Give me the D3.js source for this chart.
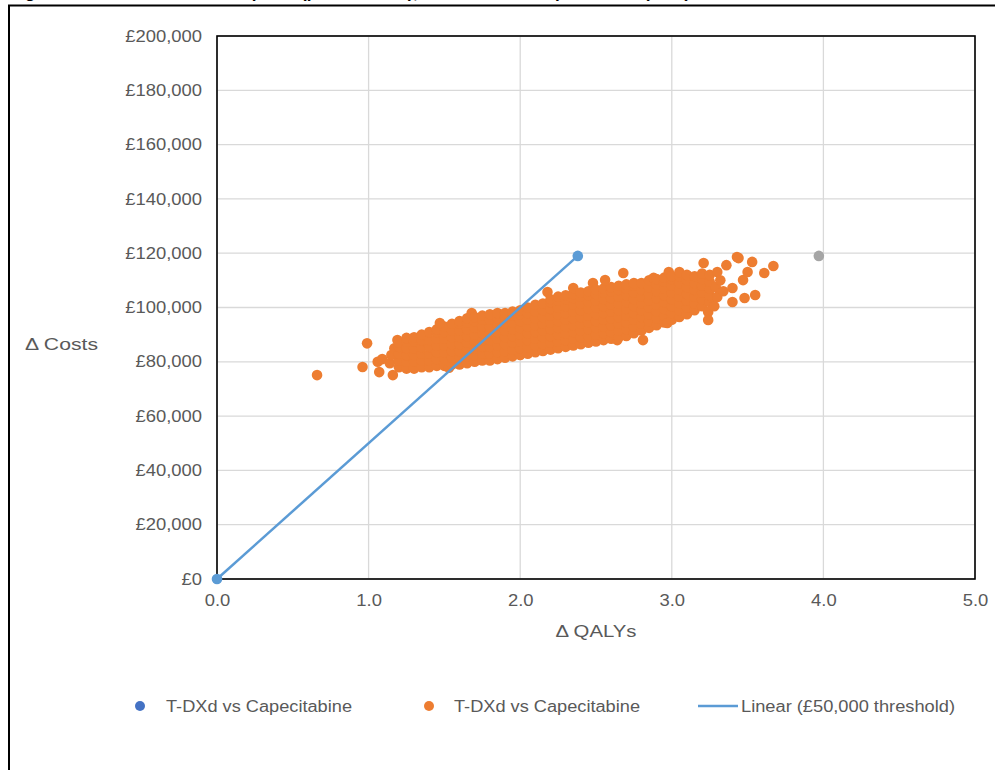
<!DOCTYPE html>
<html><head><meta charset="utf-8">
<script src="https://cdn.jsdelivr.net/npm/d3@7"></script>
<style>
html,body{margin:0;padding:0;background:#fff;}
svg{display:block;font-family:"Liberation Sans",Arial,sans-serif;}
</style></head><body>
<svg id="chart" width="995" height="770"></svg>
<script>
// ---------- data ----------
const qalyTicks = [0, 1, 2, 3, 4, 5];
const costTicks = [0, 20000, 40000, 60000, 80000, 100000, 120000, 140000, 160000, 180000, 200000];
const thresholdQaly = [0, 2.38];
const thresholdCost = [0, 119000];
const extraQaly = [3.97];
const extraCost = [119000];
const legendLabels = ["T-DXd vs Capecitabine", "T-DXd vs Capecitabine", "Linear (£50,000 threshold)"];
const xTitle = "Δ QALYs";
const yTitle = "Δ Costs";
const titleText = "Figure 26: Cost-effectiveness plane (probabilistic), T-DXd versus capecitabine (PSA)";
// PSA simulations [Δ QALYs, Δ Costs]
const psaPoints = [
[0.66,75100],[0.96,78100],[0.99,86800],[1.06,80000],[1.09,81000],[1.07,76200],[1.16,75100],[1.19,88000],[1.14,79500],[1.15,82500],[1.17,85000],
[1.20,78000],[1.20,80500],[1.20,83000],[1.20,85500],[1.20,87000],
[1.25,77500],[1.25,80000],[1.25,82500],[1.25,85000],[1.25,87500],[1.25,88800],
[1.30,77500],[1.30,80000],[1.30,82500],[1.30,85000],[1.30,87500],[1.30,89000],
[1.35,78000],[1.35,80500],[1.35,83000],[1.35,85500],[1.35,88000],[1.35,90000],
[1.40,78000],[1.40,80500],[1.40,83000],[1.40,85500],[1.40,88000],[1.40,91000],
[1.45,78500],[1.45,81000],[1.45,83500],[1.45,86000],[1.45,88500],[1.45,91000],[1.45,92000],
[1.50,78500],[1.50,81000],[1.50,83500],[1.50,86000],[1.50,88500],[1.50,91000],[1.50,93000],
[1.53,77800],[1.47,94300],
[1.55,79000],[1.55,81500],[1.55,84000],[1.55,86500],[1.55,89000],[1.55,91500],[1.55,94000],
[1.60,79000],[1.60,81500],[1.60,84000],[1.60,86500],[1.60,89000],[1.60,91500],[1.60,94000],[1.60,95000],
[1.65,79500],[1.65,82000],[1.65,84500],[1.65,87000],[1.65,89500],[1.65,92000],[1.65,94500],[1.65,96000],
[1.68,98000],
[1.70,80000],[1.70,82500],[1.70,85000],[1.70,87500],[1.70,90000],[1.70,92500],[1.70,95000],[1.70,96500],
[1.75,80500],[1.75,83000],[1.75,85500],[1.75,88000],[1.75,90500],[1.75,93000],[1.75,95500],[1.75,97000],
[1.80,80500],[1.80,83000],[1.80,85500],[1.80,88000],[1.80,90500],[1.80,93000],[1.80,95500],[1.80,97500],
[1.85,81000],[1.85,83500],[1.85,86000],[1.85,88500],[1.85,91000],[1.85,93500],[1.85,96000],[1.85,98000],
[1.90,81500],[1.90,84000],[1.90,86500],[1.90,89000],[1.90,91500],[1.90,94000],[1.90,96500],[1.90,98000],
[1.95,82000],[1.95,84500],[1.95,87000],[1.95,89500],[1.95,92000],[1.95,94500],[1.95,97000],[1.95,98500],
[2.00,82500],[2.00,85000],[2.00,87500],[2.00,90000],[2.00,92500],[2.00,95000],[2.00,97500],[2.00,99000],
[2.05,83000],[2.05,85500],[2.05,88000],[2.05,90500],[2.05,93000],[2.05,95500],[2.05,98000],[2.05,100000],
[2.10,83500],[2.10,86000],[2.10,88500],[2.10,91000],[2.10,93500],[2.10,96000],[2.10,98500],[2.10,101000],
[2.15,84000],[2.15,86500],[2.15,89000],[2.15,91500],[2.15,94000],[2.15,96500],[2.15,99000],[2.15,101500],
[2.18,105700],
[2.20,84500],[2.20,87000],[2.20,89500],[2.20,92000],[2.20,94500],[2.20,97000],[2.20,99500],[2.20,102000],[2.20,103000],
[2.25,85000],[2.25,87500],[2.25,90000],[2.25,92500],[2.25,95000],[2.25,97500],[2.25,100000],[2.25,102500],[2.25,104000],
[2.30,85500],[2.30,88000],[2.30,90500],[2.30,93000],[2.30,95500],[2.30,98000],[2.30,100500],[2.30,103000],[2.30,104500],
[2.35,86000],[2.35,88500],[2.35,91000],[2.35,93500],[2.35,96000],[2.35,98500],[2.35,101000],[2.35,103500],[2.35,105000],[2.35,107200],
[2.40,86500],[2.40,89000],[2.40,91500],[2.40,94000],[2.40,96500],[2.40,99000],[2.40,101500],[2.40,104000],[2.40,105500],
[2.45,87000],[2.45,89500],[2.45,92000],[2.45,94500],[2.45,97000],[2.45,99500],[2.45,102000],[2.45,104500],[2.45,106000],
[2.48,109000],
[2.50,87500],[2.50,90000],[2.50,92500],[2.50,95000],[2.50,97500],[2.50,100000],[2.50,102500],[2.50,105000],[2.50,106500],
[2.55,88000],[2.55,90500],[2.55,93000],[2.55,95500],[2.55,98000],[2.55,100500],[2.55,103000],[2.55,105500],[2.55,107000],
[2.56,110100],
[2.60,88500],[2.60,91000],[2.60,93500],[2.60,96000],[2.60,98500],[2.60,101000],[2.60,103500],[2.60,106000],[2.60,107500],
[2.64,88000],
[2.65,89000],[2.65,91500],[2.65,94000],[2.65,96500],[2.65,99000],[2.65,101500],[2.65,104000],[2.65,106500],[2.65,108000],
[2.68,112700],
[2.70,89500],[2.70,92000],[2.70,94500],[2.70,97000],[2.70,99500],[2.70,102000],[2.70,104500],[2.70,107000],[2.70,108500],
[2.75,90500],[2.75,93000],[2.75,95500],[2.75,98000],[2.75,100500],[2.75,103000],[2.75,105500],[2.75,108000],[2.75,109000],
[2.80,91500],[2.80,94000],[2.80,96500],[2.80,99000],[2.80,101500],[2.80,104000],[2.80,106500],[2.80,109000],
[2.81,88000],
[2.85,92500],[2.85,95000],[2.85,97500],[2.85,100000],[2.85,102500],[2.85,105000],[2.85,107500],[2.85,110000],
[2.88,110900],
[2.90,93500],[2.90,96000],[2.90,98500],[2.90,101000],[2.90,103500],[2.90,106000],[2.90,108500],[2.90,110500],
[2.95,94500],[2.95,97000],[2.95,99500],[2.95,102000],[2.95,104500],[2.95,107000],[2.95,109500],[2.95,111000],
[2.97,94300],[2.98,113100],
[3.00,95500],[3.00,98000],[3.00,100500],[3.00,103000],[3.00,105500],[3.00,108000],[3.00,110500],[3.00,111500],
[3.05,96500],[3.05,99000],[3.05,101500],[3.05,104000],[3.05,106500],[3.05,109000],[3.05,111500],[3.05,113100],
[3.10,97500],[3.10,100000],[3.10,102500],[3.10,105000],[3.10,107500],[3.10,110000],[3.10,112000],
[3.15,99000],[3.15,101500],[3.15,104000],[3.15,106500],[3.15,109000],[3.15,111500],
[3.20,100500],[3.20,103000],[3.20,105500],[3.20,108000],[3.20,110500],[3.20,112500],[3.21,116400],
[3.25,102000],[3.25,104500],[3.25,107000],[3.25,109500],[3.25,112000],
[3.24,98300],[3.24,95400],[3.28,100500],[3.29,107500],[3.30,103900],[3.30,113100],[3.32,110000],[3.34,106000],
[3.36,115600],[3.40,107200],[3.40,102000],[3.43,118600],[3.44,118200],[3.47,110100],[3.48,103500],[3.50,113100],
[3.53,116800],[3.55,104600],[3.61,112700],[3.67,115300]
];

// ---------- layout / styles ----------
const W = 995, H = 770;
const plot = {left: 217, right: 975, top: 36, bottom: 579};
const textColor = "#595959";
const gridColor = "#d9d9d9";
const orange = "#ed7d31", lineBlue = "#5b9bd5", darkBlue = "#4472c4", grey = "#a5a5a5";
const R = 5.3;
const FS = 16;

const svg = d3.select("#chart");
const x = d3.scaleLinear().domain([0, 5]).range([plot.left, plot.right]);
const y = d3.scaleLinear().domain([0, 200000]).range([plot.bottom, plot.top]);

function stretch(sel, factor) {
  sel.each(function () {
    const w = this.getComputedTextLength();
    this.setAttribute("textLength", (w * factor).toFixed(2));
    this.setAttribute("lengthAdjust", "spacingAndGlyphs");
  });
}
function fitWidth(sel, w) {
  sel.attr("textLength", w).attr("lengthAdjust", "spacingAndGlyphs");
}

// outer frame (page border) and caption cut off at the top edge, as in the source
svg.append("text").attr("x", 10).attr("y", -2.2)
  .attr("font-size", 17).attr("font-weight", "bold").attr("fill", "#000")
  .text(titleText);
svg.append("path").attr("d", `M9,${H} V5.5 H${W}`)
  .attr("fill", "none").attr("stroke", "#000").attr("stroke-width", 2);

// grid
svg.append("g").selectAll("line").data(costTicks).join("line")
  .attr("x1", plot.left).attr("x2", plot.right)
  .attr("y1", d => y(d)).attr("y2", d => y(d))
  .attr("stroke", gridColor).attr("stroke-width", 1.3);
svg.append("g").selectAll("line").data(qalyTicks).join("line")
  .attr("y1", plot.top).attr("y2", plot.bottom)
  .attr("x1", d => x(d)).attr("x2", d => x(d))
  .attr("stroke", gridColor).attr("stroke-width", 1.3);

// plot area border
svg.append("rect").attr("x", plot.left).attr("y", plot.top)
  .attr("width", plot.right - plot.left).attr("height", plot.bottom - plot.top)
  .attr("fill", "none").attr("stroke", "#000").attr("stroke-width", 1.6);

// axes
const yAxis = svg.append("g").attr("transform", `translate(${plot.left},0)`)
  .call(d3.axisLeft(y).tickValues(costTicks).tickSize(0).tickPadding(15)
    .tickFormat(d => "£" + d3.format(",")(d)));
const xAxis = svg.append("g").attr("transform", `translate(0,${plot.bottom})`)
  .call(d3.axisBottom(x).tickValues(qalyTicks).tickSize(0).tickPadding(16)
    .tickFormat(d3.format(".1f")));
[yAxis, xAxis].forEach(a => {
  a.select(".domain").remove();
  a.selectAll("text").attr("font-size", FS).attr("fill", textColor)
    .attr("font-family", "Liberation Sans, Arial, sans-serif");
  stretch(a.selectAll("text"), 1.15);
});

// axis titles
svg.append("text").attr("x", 596).attr("y", 631).attr("dy", "0.35em")
  .attr("text-anchor", "middle").attr("font-size", FS).attr("fill", textColor)
  .text(xTitle).call(fitWidth, 81);
svg.append("text").attr("x", 25).attr("y", 344).attr("dy", "0.35em")
  .attr("font-size", FS).attr("fill", textColor)
  .text(yTitle).call(fitWidth, 73);

// PSA cloud
svg.append("g").selectAll("circle").data(psaPoints).join("circle")
  .attr("cx", d => x(d[0])).attr("cy", d => y(d[1])).attr("r", R)
  .attr("fill", orange);

// extra (grey) point
svg.append("g").selectAll("circle").data(extraQaly).join("circle")
  .attr("cx", d => x(d)).attr("cy", (d, i) => y(extraCost[i])).attr("r", R)
  .attr("fill", grey);

// threshold line + points
const thr = thresholdQaly.map((q, i) => [q, thresholdCost[i]]);
svg.append("path").datum(thr)
  .attr("d", d3.line().x(d => x(d[0])).y(d => y(d[1])))
  .attr("fill", "none").attr("stroke", lineBlue).attr("stroke-width", 2.5);
svg.append("g").selectAll("circle").data(thr).join("circle")
  .attr("cx", d => x(d[0])).attr("cy", d => y(d[1])).attr("r", R)
  .attr("fill", lineBlue);

// legend
const ly = 706;
const lg = svg.append("g");
lg.append("circle").attr("cx", 140).attr("cy", ly).attr("r", 5).attr("fill", darkBlue);
lg.append("text").attr("x", 166).attr("y", ly).attr("dy", "0.35em").attr("font-size", FS)
  .attr("fill", textColor).text(legendLabels[0]).call(fitWidth, 186);
lg.append("circle").attr("cx", 429).attr("cy", ly).attr("r", 5).attr("fill", orange);
lg.append("text").attr("x", 454).attr("y", ly).attr("dy", "0.35em").attr("font-size", FS)
  .attr("fill", textColor).text(legendLabels[1]).call(fitWidth, 186);
lg.append("line").attr("x1", 698).attr("x2", 738).attr("y1", ly).attr("y2", ly)
  .attr("stroke", lineBlue).attr("stroke-width", 2.5);
lg.append("text").attr("x", 741).attr("y", ly).attr("dy", "0.35em").attr("font-size", FS)
  .attr("fill", textColor).text(legendLabels[2]).call(fitWidth, 214);
</script>
</body></html>
